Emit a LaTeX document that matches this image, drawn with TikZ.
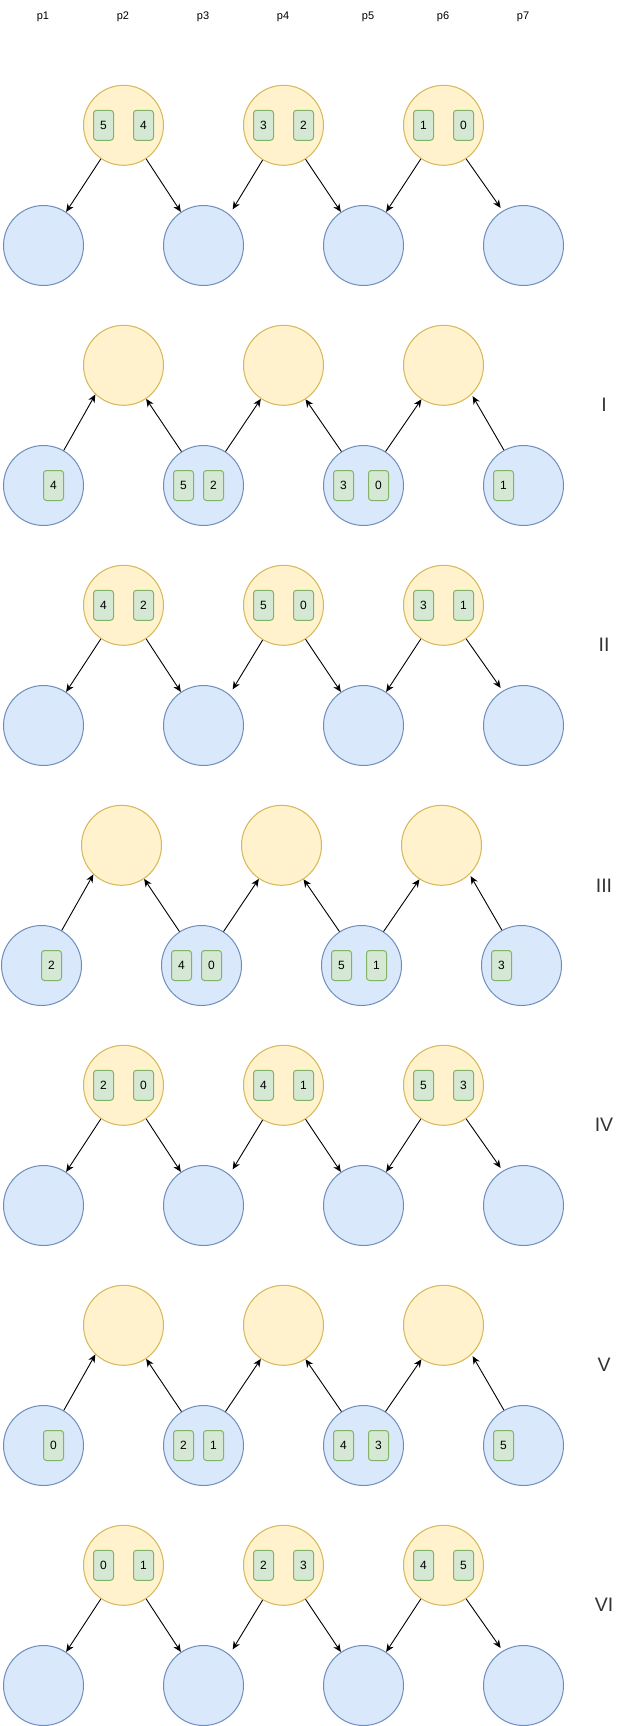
\documentclass[tikz,border=0pt]{standalone}
\usepackage{fontspec}
\setmainfont{Liberation Sans}
\usetikzlibrary{arrows.meta}

\definecolor{yfill}{HTML}{FFF2CC}
\definecolor{ydraw}{HTML}{D6B656}
\definecolor{bfill}{HTML}{DAE8FC}
\definecolor{bdraw}{HTML}{6C8EBF}
\definecolor{gfill}{HTML}{D5E8D4}
\definecolor{gdraw}{HTML}{82B366}
\definecolor{numtext}{HTML}{333333}

% one row of three upper and four lower circles; #1 = row, #2 = x shift
\newcommand\placerow[2]{%
  \foreach \i/\cx in {1/123.5,2/283.5,3/443.5}
    \node[topc] (T#1-\i) at (\cx+#2, 125.3+240*#1) {};
  \foreach \i/\cx in {1/43.5,2/203.5,3/363.5,4/523.5}
    \node[botc] (B#1-\i) at (\cx+#2, 245.5+240*#1) {};
}
% tokens held by the upper circles
\newcommand\toptoks[7]{%
  \node[tok] (c#1-1a) at ([xshift=-20pt]T#1-1.center) {#2};
  \node[tok] (c#1-1b) at ([xshift=20pt]T#1-1.center) {#3};
  \node[tok] (c#1-2a) at ([xshift=-20pt]T#1-2.center) {#4};
  \node[tok] (c#1-2b) at ([xshift=20pt]T#1-2.center) {#5};
  \node[tok] (c#1-3a) at ([xshift=-20pt]T#1-3.center) {#6};
  \node[tok] (c#1-3b) at ([xshift=20pt]T#1-3.center) {#7};
}
% tokens held by the lower circles
\newcommand\bottoks[7]{%
  \node[tok] (c#1-1a) at ([xshift=10pt]B#1-1.center) {#2};
  \node[tok] (c#1-2a) at ([xshift=-20pt]B#1-2.center) {#3};
  \node[tok] (c#1-2b) at ([xshift=10pt]B#1-2.center) {#4};
  \node[tok] (c#1-3a) at ([xshift=-20pt]B#1-3.center) {#5};
  \node[tok] (c#1-3b) at ([xshift=15pt]B#1-3.center) {#6};
  \node[tok] (c#1-4a) at ([xshift=-20pt]B#1-4.center) {#7};
}
% arrows from the upper circles down to the lower ones
\newcommand\downarrows[1]{%
  \draw[arr] (T#1-1.-124) -- (B#1-1.56);
  \draw[arr] (T#1-1.-56) -- (B#1-2.124);
  \draw[arr, shorten >=6pt] (T#1-2.-121) -- (B#1-2.50);
  \draw[arr] (T#1-2.-57) -- (B#1-3.124);
  \draw[arr] (T#1-3.-124) -- (B#1-3.56);
  \draw[arr, shorten >=3.5pt] (T#1-3.-56) -- (B#1-4.121);
}
% arrows from the lower circles up to the upper ones
\newcommand\uparrows[1]{%
  \draw[arr] (B#1-1.60) -- (T#1-1.-134);
  \draw[arr] (B#1-2.123) -- (T#1-1.-56);
  \draw[arr] (B#1-2.57) -- (T#1-2.-124);
  \draw[arr] (B#1-3.123) -- (T#1-2.-57);
  \draw[arr] (B#1-3.57) -- (T#1-3.-123);
  \draw[arr, shorten >=2pt] (B#1-4.119) -- (T#1-3.-46);
}

\begin{document}
\begin{tikzpicture}[x=1pt, y=-1pt,
  topc/.style={circle, draw=ydraw, fill=yfill, line width=1pt,
    minimum size=80pt, inner sep=0pt},
  botc/.style={circle, draw=bdraw, fill=bfill, line width=1pt,
    minimum size=80pt, inner sep=0pt},
  tok/.style={rectangle, rounded corners=3pt, draw=gdraw, fill=gfill,
    line width=1pt, minimum width=20pt, minimum height=30pt, inner sep=0pt,
    font=\fontsize{12}{14}\selectfont},
  head/.style={anchor=base, inner sep=0pt, font=\fontsize{11}{13}\selectfont},
  numeral/.style={inner sep=0pt, text=numtext, font=\fontsize{19.5}{22}\selectfont},
  arr/.style={line width=0.9pt, -{Stealth[length=8pt, width=7pt, inset=2.5pt]}}]

\useasboundingbox (0,0) rectangle (619,1726);

% column headers
\foreach \lab/\cx in {p1/43,p2/123,p3/203,p4/283,p5/368,p6/443,p7/523}
  \node[head] (h-\lab) at (\cx, 19.7) {\lab};

% circles of every row
\placerow{0}{0}
\placerow{1}{0}
\placerow{2}{0}
\placerow{3}{-2}
\placerow{4}{0}
\placerow{5}{0}
\placerow{6}{0}

% tokens
\toptoks{0}{5}{4}{3}{2}{1}{0}
\bottoks{1}{4}{5}{2}{3}{0}{1}
\toptoks{2}{4}{2}{5}{0}{3}{1}
\bottoks{3}{2}{4}{0}{5}{1}{3}
\toptoks{4}{2}{0}{4}{1}{5}{3}
\bottoks{5}{0}{2}{1}{4}{3}{5}
\toptoks{6}{0}{1}{2}{3}{4}{5}

% arrows
\downarrows{0}
\uparrows{1}
\downarrows{2}
\uparrows{3}
\downarrows{4}
\uparrows{5}
\downarrows{6}

% step numbers
\node[numeral] (s1) at (604, 405) {I};
\node[numeral] (s2) at (604, 645) {II};
\node[numeral] (s3) at (604, 886) {III};
\node[numeral] (s4) at (604, 1125) {IV};
\node[numeral] (s5) at (604, 1365) {V};
\node[numeral] (s6) at (604, 1605) {VI};
\end{tikzpicture}
\end{document}
